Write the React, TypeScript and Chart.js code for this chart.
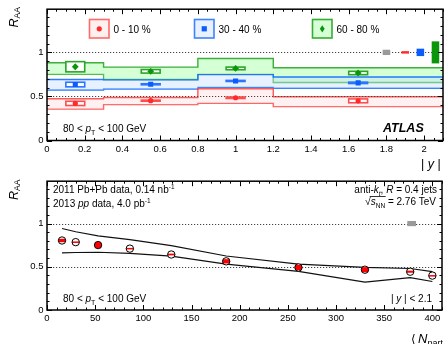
import React, { useEffect, useRef } from 'react';
import { Chart, registerables } from 'chart.js';
Chart.register(...registerables);

const FONT = '"Liberation Sans", Arial, Helvetica, sans-serif';

// ---------- Top panel: R_AA vs |y| ----------
const Y_BIN_EDGES = [0, 0.3, 0.8, 1.2, 2.1];
const Y_CENTERS = [0.15, 0.55, 1.0, 1.65];
const Y_BOX_HALF = 0.05;
const RAA_0_10 = [0.421, 0.452, 0.485, 0.45];
const RAA_30_40 = [0.635, 0.638, 0.676, 0.654];
const RAA_60_80 = [0.837, 0.785, 0.818, 0.766];
const STAT_0_10 = [0.012, 0.008, 0.008, 0.01];
const STAT_30_40 = [0.012, 0.008, 0.008, 0.01];
const STAT_60_80 = [0.03, 0.015, 0.015, 0.015];
const SYS_0_10 = [0.024, 0.006, 0.008, 0.022];
const SYS_30_40 = [0.026, 0.006, 0.006, 0.008];
const SYS_60_80 = [0.058, 0.02, 0.015, 0.019];
const BAND_0_10_HI = [0.474, 0.488, 0.588, 0.497];
const BAND_0_10_LO = [0.356, 0.407, 0.421, 0.384];
const BAND_30_40_HI = [0.692, 0.688, 0.747, 0.721];
const BAND_30_40_LO = [0.573, 0.584, 0.603, 0.593];
const BAND_60_80_HI = [0.882, 0.833, 0.93, 0.825];
const BAND_60_80_LO = [0.75, 0.692, 0.75, 0.658];
const NORM_X = [1.8, 1.9, 1.98, 2.06];
const NORM_HALF = [0.03, 0.014, 0.042, 0.125];
const LEGEND_LABELS = ['0 - 10 %', '30 - 40 %', '60 - 80 %'];
const X_TICKS_Y = [0, 0.2, 0.4, 0.6, 0.8, 1.0, 1.2, 1.4, 1.6, 1.8, 2.0];
const RAA_TICKS = [0, 0.5, 1];

// ---------- Bottom panel: R_AA vs <Npart> ----------
const NPART = [15.6, 29.8, 53, 86, 129, 186, 261, 330, 377, 400];
const RAA_NPART = [0.804, 0.785, 0.751, 0.71, 0.642, 0.563, 0.492, 0.466, 0.443, 0.398];
const SYS_NPART = [0.02, 0.008, 0.035, 0.008, 0.01, 0.025, 0.03, 0.03, 0.012, 0.006];
const THEORY_HI = [0.943, 0.905, 0.857, 0.815, 0.744, 0.625, 0.53, 0.492, 0.48, 0.443];
const THEORY_LO = [0.661, 0.665, 0.668, 0.654, 0.623, 0.53, 0.447, 0.323, 0.375, 0.33];
const NPART_NORM_X = [378.5];
const NPART_NORM_HALF = [0.03];
const X_TICKS_NPART = [0, 50, 100, 150, 200, 250, 300, 350, 400];

const RED = '#ff2a2a';
const BLUE = '#0a5cff';
const GREEN = '#0a960a';

type Part = { t: string; size: number; style?: string; dy?: number; family?: string };

function rich(ctx: CanvasRenderingContext2D, x: number, y: number, parts: Part[], align = 'left') {
  const fontOf = (p: Part) => `${p.style || ''} ${p.size}px ${p.family || FONT}`;
  const widths = parts.map((p) => {
    ctx.font = fontOf(p);
    return ctx.measureText(p.t).width;
  });
  const total = widths.reduce((a, b) => a + b, 0);
  let cx = align === 'right' ? x - total : align === 'center' ? x - total / 2 : x;
  const starts: number[] = [];
  ctx.textAlign = 'left';
  ctx.textBaseline = 'alphabetic';
  ctx.fillStyle = '#000';
  parts.forEach((p, i) => {
    ctx.font = fontOf(p);
    starts.push(cx);
    ctx.fillText(p.t, cx, y + (p.dy || 0));
    cx += widths[i];
  });
  starts.push(cx);
  return starts;
}

function stepData(edges: number[], vals: number[]) {
  return edges.map((e, i) => ({ x: e, y: vals[Math.min(i, vals.length - 1)] }));
}

function drawFrame(chart: any, xMinorStep: number, xMajor: number[], yMax: number) {
  const { ctx, chartArea: a, scales } = chart;
  const xs = scales.x;
  const ys = scales.y;
  ctx.save();
  ctx.strokeStyle = '#000';
  ctx.lineWidth = 1;
  const xmax = xs.max;
  for (let i = 0; i * xMinorStep <= xmax + 1e-9; i++) {
    const v = i * xMinorStep;
    const major = xMajor.some((m) => Math.abs(m - v) < 1e-6);
    const px = Math.round(xs.getPixelForValue(v)) + 0.5;
    const len = major ? 5 : 2.5;
    ctx.beginPath();
    ctx.moveTo(px, a.bottom);
    ctx.lineTo(px, a.bottom - len);
    ctx.moveTo(px, a.top);
    ctx.lineTo(px, a.top + len);
    ctx.stroke();
  }
  for (let i = 0; i * 0.1 <= yMax + 1e-9; i++) {
    const v = i * 0.1;
    const major = i % 5 === 0;
    const py = Math.round(ys.getPixelForValue(v)) + 0.5;
    const len = major ? 5 : 2.5;
    ctx.beginPath();
    ctx.moveTo(a.left, py);
    ctx.lineTo(a.left + len, py);
    ctx.moveTo(a.right, py);
    ctx.lineTo(a.right - len, py);
    ctx.stroke();
  }
  ctx.lineWidth = 1.5;
  ctx.strokeRect(a.left, a.top, a.right - a.left, a.bottom - a.top);
  ctx.restore();
}

function dotted(chart: any, vals: number[]) {
  const { ctx, chartArea: a, scales } = chart;
  ctx.save();
  ctx.strokeStyle = '#444';
  ctx.lineWidth = 1;
  ctx.setLineDash([1.2, 1.8]);
  vals.forEach((v) => {
    const py = Math.round(scales.y.getPixelForValue(v)) + 0.5;
    ctx.beginPath();
    ctx.moveTo(a.left, py);
    ctx.lineTo(a.right, py);
    ctx.stroke();
  });
  ctx.restore();
}

function yTitle(ctx: CanvasRenderingContext2D, x: number, y: number) {
  ctx.save();
  ctx.translate(x, y);
  ctx.rotate(-Math.PI / 2);
  rich(ctx, 0, 0, [
    { t: 'R', size: 12.5, style: 'italic' },
    { t: 'AA', size: 8.5, dy: 2.5 },
  ]);
  ctx.restore();
}

function sysBox(ctx: CanvasRenderingContext2D, xs: any, ys: any, xc: number, hw: number, yc: number, hh: number, color: string) {
  const x0 = xs.getPixelForValue(xc - hw);
  const x1 = xs.getPixelForValue(xc + hw);
  const y0 = ys.getPixelForValue(yc + hh);
  const y1 = ys.getPixelForValue(yc - hh);
  ctx.fillStyle = '#fff';
  ctx.fillRect(x0, y0, x1 - x0, y1 - y0);
  ctx.strokeStyle = color;
  ctx.lineWidth = 1.6;
  ctx.strokeRect(x0, y0, x1 - x0, Math.max(y1 - y0, 0.5));
}

const topPlugin = {
  id: 'topDecor',
  afterDatasetDraw(chart: any, args: any) {
    if (args.index !== 3) return;
    const { ctx, scales } = chart;
    const xs = scales.x;
    const ys = scales.y;
    dotted(chart, [1, 0.5]);
    ctx.save();
    const groups = [
      { v: RAA_0_10, s: SYS_0_10, e: STAT_0_10, c: '#ff4d4d', m: RED },
      { v: RAA_30_40, s: SYS_30_40, e: STAT_30_40, c: '#2a75ff', m: BLUE },
      { v: RAA_60_80, s: SYS_60_80, e: STAT_60_80, c: '#2aa52a', m: GREEN },
    ];
    groups.forEach((g) => {
      Y_CENTERS.forEach((xc, i) => {
        sysBox(ctx, xs, ys, xc, Y_BOX_HALF, g.v[i], g.s[i], g.c);
        const px = xs.getPixelForValue(xc);
        ctx.strokeStyle = g.m;
        ctx.lineWidth = 1.5;
        ctx.beginPath();
        ctx.moveTo(px, ys.getPixelForValue(g.v[i] + g.e[i]));
        ctx.lineTo(px, ys.getPixelForValue(g.v[i] - g.e[i]));
        ctx.stroke();
      });
    });
    const normColors = ['#9a9a9a', '#ff2a2a', '#0a5cff', '#0a960a'];
    NORM_X.forEach((xc, i) => {
      const x0 = xs.getPixelForValue(xc - 0.02);
      const x1 = xs.getPixelForValue(xc + 0.02);
      const y0 = ys.getPixelForValue(1 + NORM_HALF[i]);
      const y1 = ys.getPixelForValue(1 - NORM_HALF[i]);
      ctx.fillStyle = normColors[i];
      ctx.fillRect(x0, y0, x1 - x0, y1 - y0);
    });
    ctx.restore();
  },
  afterDraw(chart: any) {
    const { ctx } = chart;
    drawFrame(chart, 0.05, X_TICKS_Y, 1.4);
    ctx.save();
    const leg = [
      { x: 89.5, fill: '#fff0f0', stroke: '#ff6b6b', m: RED, shape: 'c' },
      { x: 194.5, fill: '#e9f1ff', stroke: '#3d84ff', m: BLUE, shape: 's' },
      { x: 312.5, fill: '#d6ffd6', stroke: '#35ad35', m: GREEN, shape: 'd' },
    ];
    leg.forEach((l, i) => {
      ctx.fillStyle = l.fill;
      ctx.fillRect(l.x, 19.5, 19.5, 18.5);
      ctx.strokeStyle = l.stroke;
      ctx.lineWidth = 1.6;
      ctx.strokeRect(l.x, 19.5, 19.5, 18.5);
      const cx = l.x + 9.75;
      const cy = 28.8;
      ctx.fillStyle = l.m;
      ctx.beginPath();
      if (l.shape === 'c') ctx.arc(cx, cy, 2.6, 0, Math.PI * 2);
      else if (l.shape === 's') ctx.rect(cx - 2.6, cy - 2.6, 5.2, 5.2);
      else {
        ctx.moveTo(cx, cy - 3.6);
        ctx.lineTo(cx + 2.4, cy);
        ctx.lineTo(cx, cy + 3.6);
        ctx.lineTo(cx - 2.4, cy);
        ctx.closePath();
      }
      ctx.fill();
      rich(ctx, l.x + 24, 32.5, [{ t: LEGEND_LABELS[i], size: 10 }]);
    });
    rich(ctx, 63, 131.5, [
      { t: '80 < ', size: 10 },
      { t: 'p', size: 10, style: 'italic' },
      { t: 'T', size: 7, dy: 3 },
      { t: ' < 100 GeV', size: 10 },
    ]);
    rich(ctx, 383, 132, [{ t: 'ATLAS', size: 12.5, style: 'italic bold' }]);
    rich(ctx, 421, 167.5, [
      { t: '| ', size: 12.5 },
      { t: 'y', size: 12.5, style: 'italic' },
      { t: ' |', size: 12.5 },
    ]);
    yTitle(ctx, 17.5, 27.5);
    ctx.restore();
  },
};

const bottomPlugin = {
  id: 'bottomDecor',
  beforeDatasetsDraw(chart: any) {
    const { ctx, scales } = chart;
    dotted(chart, [1, 0.5]);
    ctx.save();
    NPART_NORM_X.forEach((xc, i) => {
      const x0 = scales.x.getPixelForValue(xc - 4.5);
      const x1 = scales.x.getPixelForValue(xc + 4.5);
      const y0 = scales.y.getPixelForValue(1 + NPART_NORM_HALF[i]);
      const y1 = scales.y.getPixelForValue(1 - NPART_NORM_HALF[i]);
      ctx.fillStyle = '#9a9a9a';
      ctx.fillRect(x0, y0, x1 - x0, y1 - y0);
    });
    ctx.restore();
  },
  afterDatasetDraw(chart: any, args: any) {
    if (args.index !== 1) return;
    const { ctx, scales } = chart;
    ctx.save();
    NPART.forEach((n, i) => {
      const px = scales.x.getPixelForValue(n);
      const py = scales.y.getPixelForValue(RAA_NPART[i]);
      const y0 = scales.y.getPixelForValue(RAA_NPART[i] + SYS_NPART[i]);
      const y1 = scales.y.getPixelForValue(RAA_NPART[i] - SYS_NPART[i]);
      ctx.save();
      ctx.beginPath();
      ctx.arc(px, py, 3.7, 0, Math.PI * 2);
      ctx.clip();
      ctx.fillStyle = '#ff0000';
      ctx.fillRect(px - 5, y0, 10, Math.max(y1 - y0, 1.5));
      ctx.restore();
    });
    ctx.restore();
  },
  afterDraw(chart: any) {
    const { ctx } = chart;
    drawFrame(chart, 10, X_TICKS_NPART, 1.4);
    ctx.save();
    rich(ctx, 53, 20.5, [
      { t: '2011 Pb+Pb data, 0.14 nb', size: 10 },
      { t: '-1', size: 6.5, dy: -4 },
    ]);
    rich(ctx, 53, 34.5, [
      { t: '2013 ', size: 10 },
      { t: 'pp', size: 10, style: 'italic' },
      { t: ' data, 4.0 pb', size: 10 },
      { t: '-1', size: 6.5, dy: -4 },
    ]);
    rich(ctx, 437, 21, [
      { t: 'anti-', size: 10 },
      { t: 'k', size: 10, style: 'italic' },
      { t: 't', size: 6.5, style: 'italic', dy: 2.5 },
      { t: ', ', size: 10 },
      { t: 'R', size: 10, style: 'italic' },
      { t: ' = 0.4 jets', size: 10 },
    ], 'right');
    const st = rich(ctx, 436, 33, [
      { t: '\u221A', size: 10.5 },
      { t: 's', size: 10, style: 'italic' },
      { t: 'NN', size: 6.5, dy: 2.5 },
      { t: ' = 2.76 TeV', size: 10 },
    ], 'right');
    ctx.strokeStyle = '#000';
    ctx.lineWidth = 0.8;
    ctx.beginPath();
    ctx.moveTo(st[1] - 1, 24.5);
    ctx.lineTo(st[3] + 0.5, 24.5);
    ctx.stroke();
    rich(ctx, 63, 129.5, [
      { t: '80 < ', size: 10 },
      { t: 'p', size: 10, style: 'italic' },
      { t: 'T', size: 7, dy: 3 },
      { t: ' < 100 GeV', size: 10 },
    ]);
    rich(ctx, 432, 129.5, [
      { t: '| ', size: 10 },
      { t: 'y', size: 10, style: 'italic' },
      { t: ' | < 2.1', size: 10 },
    ], 'right');
    rich(ctx, 411, 171, [
      { t: '\u27E8', size: 12, family: '"DejaVu Sans", sans-serif' },
      { t: '\u2009', size: 12 },
      { t: 'N', size: 13, style: 'italic' },
      { t: 'part', size: 9, dy: 3 },
      { t: '\u2009', size: 12 },
      { t: '\u27E9', size: 12, family: '"DejaVu Sans", sans-serif' },
    ]);
    yTitle(ctx, 17.5, 28);
    ctx.restore();
  },
};

const fmt = (v: number) => String(Number(v.toFixed(2)));

function axes(xMax: number, xTicks: number[], xHeight: number) {
  const tickFont = { family: FONT, size: 9.5 };
  return {
    x: {
      type: 'linear',
      min: 0,
      max: xMax,
      grid: { display: false, drawTicks: false },
      border: { display: false },
      afterBuildTicks: (s: any) => {
        s.ticks = xTicks.map((v) => ({ value: v }));
      },
      afterFit: (s: any) => {
        s.height = xHeight;
      },
      ticks: { padding: 3, color: '#000', font: tickFont, maxRotation: 0, autoSkip: false, callback: (v: any) => fmt(Number(v)) },
    },
    y: {
      type: 'linear',
      min: 0,
      max: 1.49,
      grid: { display: false, drawTicks: false },
      border: { display: false },
      afterBuildTicks: (s: any) => {
        s.ticks = RAA_TICKS.map((v) => ({ value: v }));
      },
      afterFit: (s: any) => {
        s.width = 47;
      },
      ticks: { padding: 3.5, color: '#000', font: tickFont, callback: (v: any) => fmt(Number(v)) },
    },
  };
}

function bandSets(hi: number[], lo: number[], line: string, fill: string) {
  return [
    { type: 'line', data: stepData(Y_BIN_EDGES, hi), stepped: 'before', borderColor: line, borderWidth: 1.4, pointRadius: 0, fill: '+1', backgroundColor: fill, order: 1 },
    { type: 'line', data: stepData(Y_BIN_EDGES, lo), stepped: 'before', borderColor: line, borderWidth: 1.4, pointRadius: 0, fill: false, order: 1 },
  ];
}

export default function App() {
  const topRef = useRef<HTMLCanvasElement>(null);
  const botRef = useRef<HTMLCanvasElement>(null);

  useEffect(() => {
    const pts = (vals: number[], xsArr: number[]) => vals.map((v, i) => ({ x: xsArr[i], y: v }));
    const top = new Chart(topRef.current as HTMLCanvasElement, {
      type: 'scatter',
      data: {
        datasets: [
          { type: 'scatter', data: pts(RAA_0_10, Y_CENTERS), pointStyle: 'circle', radius: 2.6, backgroundColor: RED, borderWidth: 0, order: 0 },
          { type: 'scatter', data: pts(RAA_30_40, Y_CENTERS), pointStyle: 'rect', radius: 3.6, backgroundColor: BLUE, borderWidth: 0, order: 0 },
          { type: 'scatter', data: pts(RAA_60_80, Y_CENTERS), pointStyle: 'rectRot', radius: 3.4, backgroundColor: GREEN, borderWidth: 0, order: 0 },
          ...bandSets(BAND_0_10_HI, BAND_0_10_LO, 'rgba(255,60,60,0.85)', 'rgba(255,200,200,0.25)'),
          ...bandSets(BAND_30_40_HI, BAND_30_40_LO, 'rgba(20,110,255,0.9)', 'rgba(190,215,255,0.35)'),
          ...bandSets(BAND_60_80_HI, BAND_60_80_LO, 'rgba(30,160,30,0.85)', 'rgba(150,255,150,0.4)'),
        ] as any,
      },
      options: {
        responsive: false,
        animation: false,
        layout: { padding: { top: 8, right: 1, left: 0, bottom: 0 } },
        plugins: { legend: { display: false }, tooltip: { enabled: false } },
        scales: axes(2.1, X_TICKS_Y, 31.5) as any,
      },
      plugins: [topPlugin],
    });
    const bottom = new Chart(botRef.current as HTMLCanvasElement, {
      type: 'scatter',
      data: {
        datasets: [
          { type: 'scatter', data: pts(RAA_NPART, NPART), pointStyle: 'circle', radius: 3.7, backgroundColor: 'rgba(0,0,0,0)', borderColor: '#000', borderWidth: 1, order: 0 },
          { type: 'scatter', data: pts(RAA_NPART, NPART), pointStyle: 'circle', radius: 3.7, backgroundColor: '#fff', borderWidth: 0, order: 0 },
          { type: 'line', data: pts(THEORY_HI, NPART), borderColor: '#111', borderWidth: 1.2, pointRadius: 0, fill: false, order: 1 },
          { type: 'line', data: pts(THEORY_LO, NPART), borderColor: '#111', borderWidth: 1.2, pointRadius: 0, fill: false, order: 1 },
        ] as any,
      },
      options: {
        responsive: false,
        animation: false,
        layout: { padding: { top: 6, right: 1, left: 0, bottom: 0 } },
        plugins: { legend: { display: false }, tooltip: { enabled: false } },
        scales: axes(410, X_TICKS_NPART, 34) as any,
      },
      plugins: [bottomPlugin],
    });
    return () => {
      top.destroy();
      bottom.destroy();
    };
  }, []);

  return (
    <div style={{ position: 'absolute', left: 0, top: 0, width: 445, height: 344, overflow: 'hidden', background: '#fff' }}>
      <canvas ref={topRef} width={447} height={172} style={{ position: 'absolute', left: 0, top: 0, width: 447, height: 172 }} />
      <canvas ref={botRef} width={447} height={172} style={{ position: 'absolute', left: 0, top: 172, width: 447, height: 172 }} />
    </div>
  );
}
